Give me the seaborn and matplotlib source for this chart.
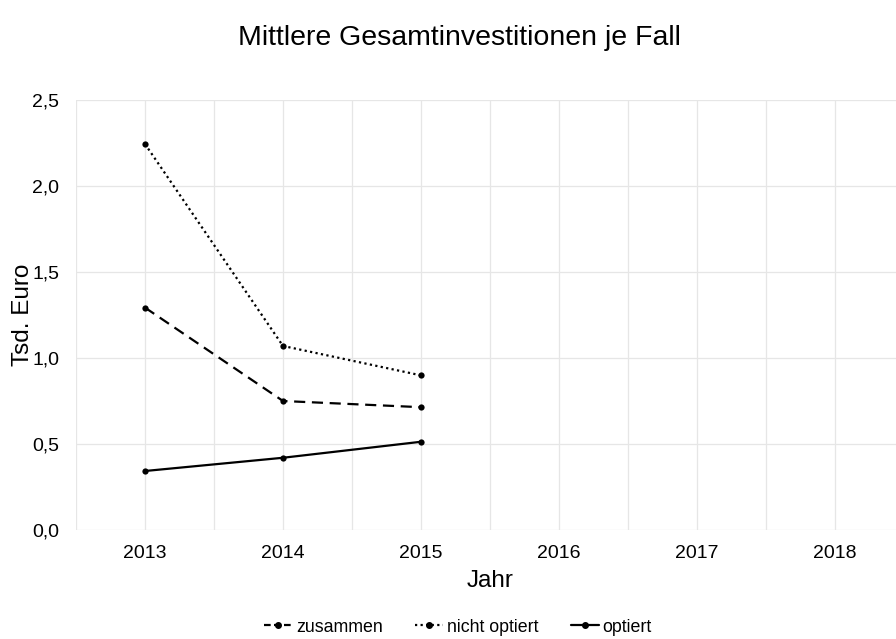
import pandas as pd
import matplotlib.pyplot as plt
import matplotlib.ticker as mticker
import seaborn as sns

# Werte (Tsd. Euro)
jahre = [2013, 2014, 2015]
zusammen = [1.293, 0.750, 0.714]
nicht_optiert = [2.244, 1.070, 0.899]
optiert = [0.343, 0.420, 0.513]
achsen_jahre = [2013, 2014, 2015, 2016, 2017, 2018]
gruppen = ["zusammen", "nicht optiert", "optiert"]

df = pd.DataFrame({
    "Jahr": jahre * 3,
    "Wert": zusammen + nicht_optiert + optiert,
    "Gruppe": [g for g in gruppen for _ in jahre],
})

sns.set_style("white")
plt.rcParams["font.family"] = ["Liberation Sans", "DejaVu Sans"]
plt.rcParams["text.color"] = "black"
plt.rcParams["axes.labelcolor"] = "black"

fig = plt.figure(figsize=(8.96, 6.39), dpi=100)
ax = fig.add_axes([76 / 896, 109 / 639, 828 / 896, 430 / 639])

sns.lineplot(
    data=df, x="Jahr", y="Wert", hue="Gruppe", style="Gruppe",
    hue_order=gruppen, style_order=gruppen,
    palette=["black"] * 3,
    dashes={"zusammen": (5, 3), "nicht optiert": (1, 1.5), "optiert": ""},
    markers={"zusammen": "o", "nicht optiert": "o", "optiert": "o"},
    markersize=4.5, linewidth=1.6, markeredgewidth=0,
    ax=ax, legend=False,
)

ax.set_xlim(2012.5, 2018.5)
ax.set_ylim(0, 2.5)
ax.set_xticks(achsen_jahre)
ax.set_xticks([j - 0.5 for j in achsen_jahre] + [2018.5], minor=True)
ax.set_yticks([0, 0.5, 1.0, 1.5, 2.0, 2.5])
ax.yaxis.set_major_formatter(mticker.FuncFormatter(lambda v, p: f"{v:.1f}".replace(".", ",")))
ax.grid(False)
ax.grid(axis="x", which="both", color="#e6e6e6", linewidth=0.9)
ax.grid(axis="y", which="major", color="#e6e6e6", linewidth=0.9)
ax.set_axisbelow(True)
for s in ax.spines.values():
    s.set_visible(False)
ax.tick_params(axis="both", which="both", length=0, labelsize=14, colors="black")
ax.tick_params(axis="x", pad=11)
ax.tick_params(axis="y", pad=12)

ax.set_xlabel("Jahr", fontsize=17.5)
ax.set_ylabel("Tsd. Euro", fontsize=17.5)
ax.xaxis.set_label_coords((490 - 76) / 828, -40 / 430)
ax.yaxis.set_label_coords((34 - 76) / 828, 0.5)
fig.text(459 / 896, 1 - 38 / 639, "Mittlere Gesamtinvestitionen je Fall",
         fontsize=20.5, ha="center", va="center")

handles = [
    plt.Line2D([], [], color="black", linestyle=(0, (3, 1.5)), marker="o", markersize=4, linewidth=1.6),
    plt.Line2D([], [], color="black", linestyle=(0, (1, 1.5)), marker="o", markersize=4, linewidth=1.6),
    plt.Line2D([], [], color="black", linestyle="-", marker="o", markersize=4, linewidth=1.6),
]
fig.legend(handles, gruppen, loc="center", bbox_to_anchor=(0.5 + 10 / 896, 12 / 639), ncol=3,
           frameon=False, fontsize=12.8, handlelength=1.6, handletextpad=0.2, columnspacing=1.8)

plt.savefig("out.png", dpi=100)
